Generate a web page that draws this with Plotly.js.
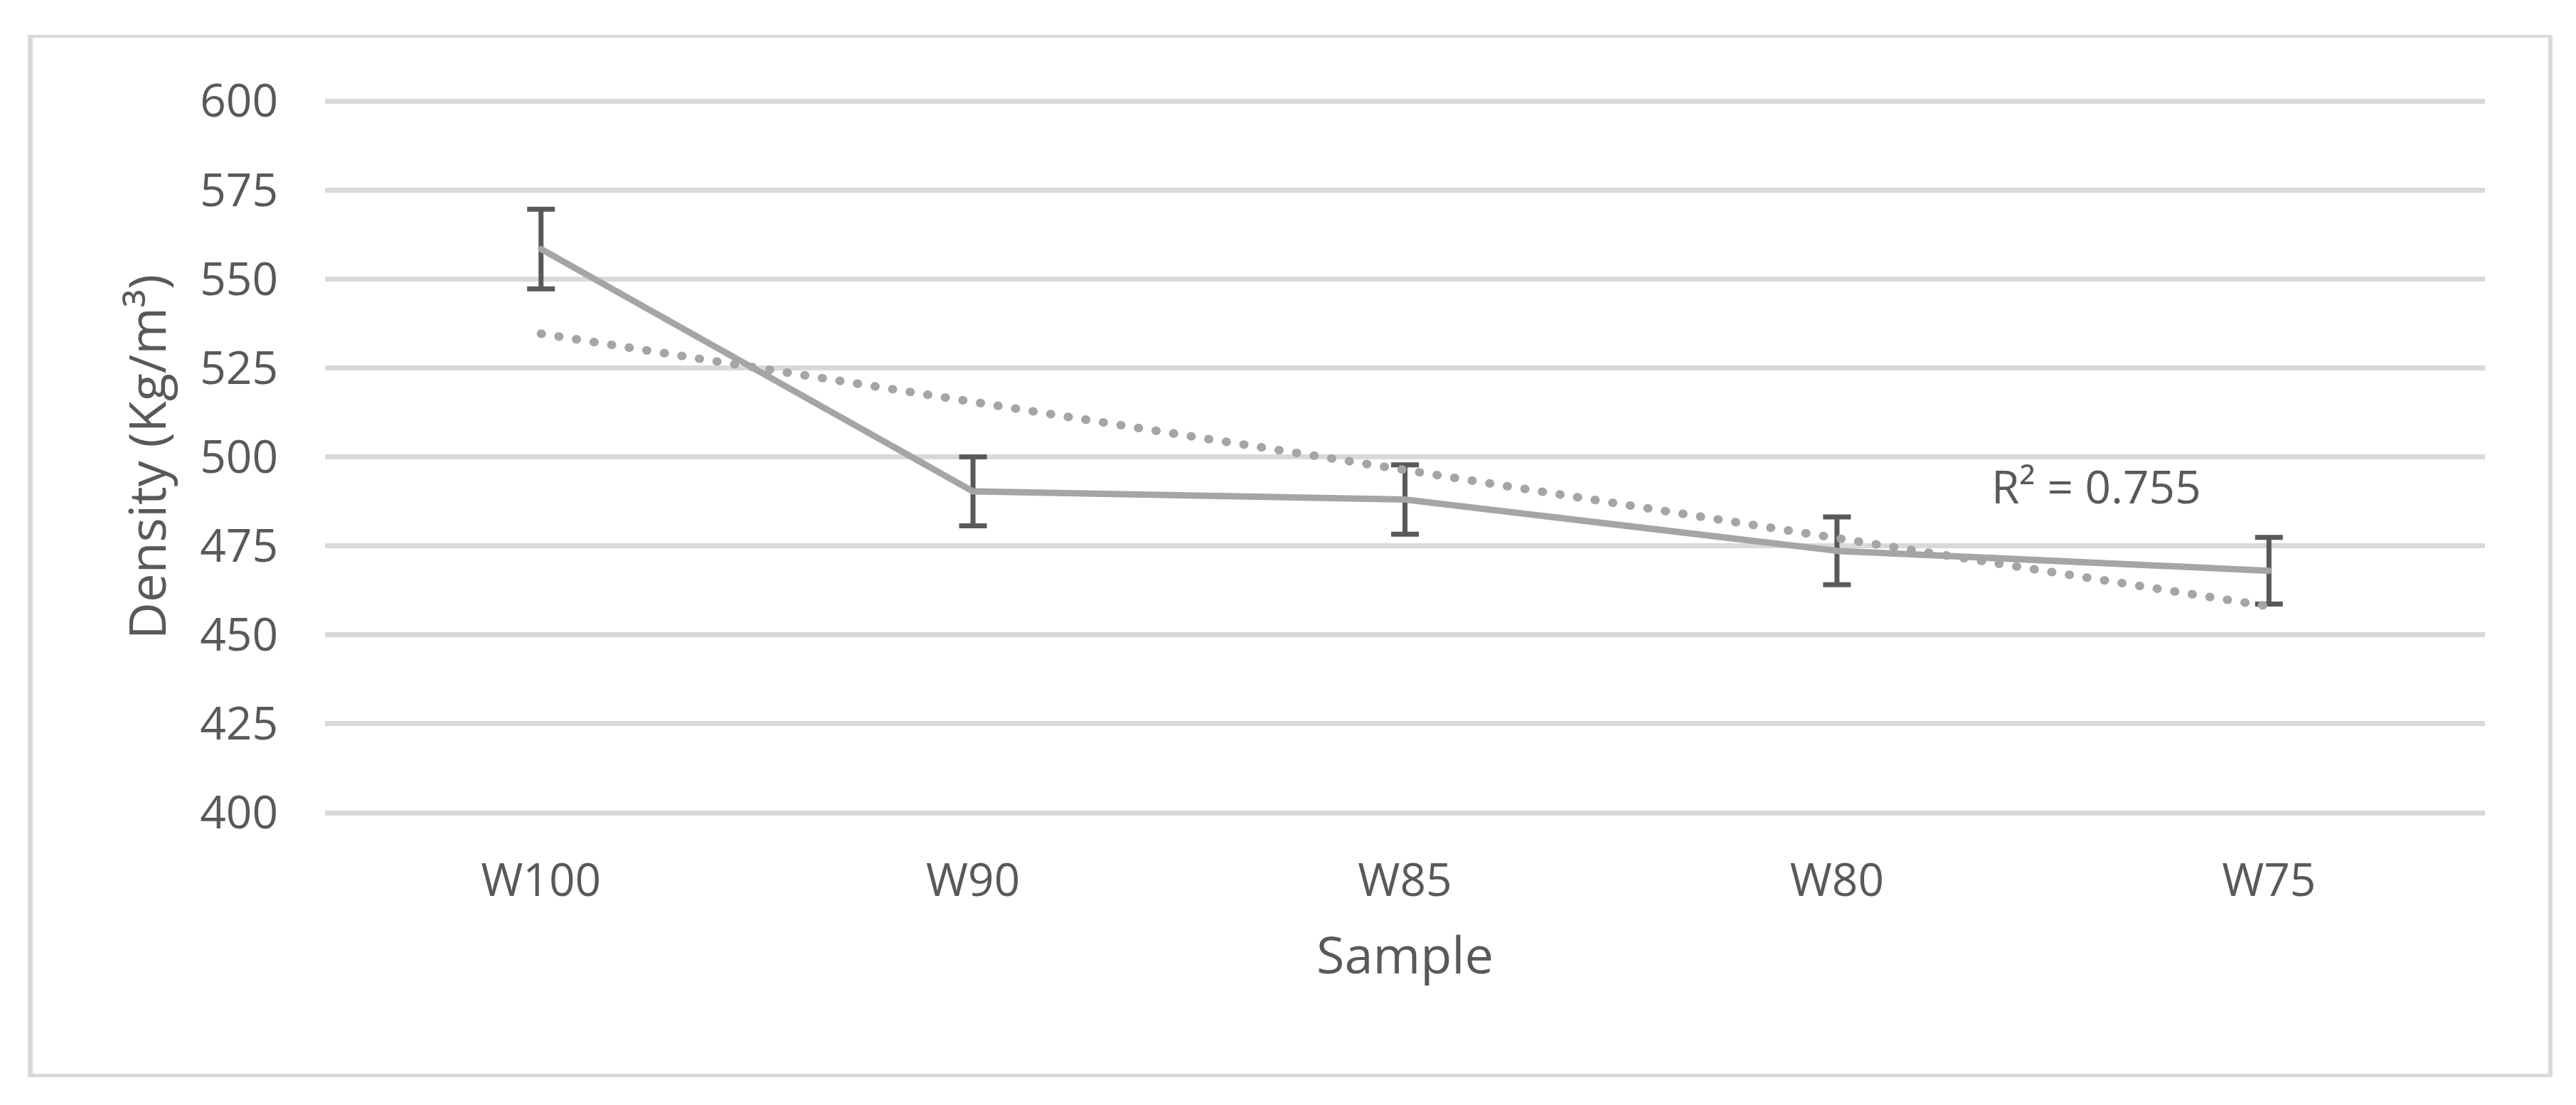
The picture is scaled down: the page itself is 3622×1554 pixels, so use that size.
<!DOCTYPE html>
<html>
<head>
<meta charset="utf-8">
<script src="https://cdn.plot.ly/plotly-3.0.1.min.js"></script>
<style>
  html, body { margin: 0; padding: 0; background: #ffffff; }
  #wrap { position: relative; width: 3622px; height: 1554px; }
  #chart { position: absolute; left: 0; top: 0; width: 3622px; height: 1554px; }
  #frame {
    position: absolute; left: 39px; top: 49px; width: 3550px; height: 1466px;
    box-sizing: border-box; border-style: solid; border-color: #d9d9d9;
    border-width: 4px 6px 5px 7px; pointer-events: none;
  }
  .scatterlayer path.js-line { stroke-linecap: round !important; stroke-linejoin: round !important; }
</style>
</head>
<body>
<div id="wrap">
  <div id="chart"></div>
  <div id="frame"></div>
</div>
<script>
// ---- data ----
const categories = ['W100', 'W90', 'W85', 'W80', 'W75'];
const density = [558.4, 490.3, 488.0, 473.6, 468.0];
const densityError = [11.2, 9.7, 9.75, 9.5, 9.35];
const trendCategories = ['W100', 'W75'];
const trendValues = [534.6, 458.0];
const yTickValues = [400, 425, 450, 475, 500, 525, 550, 575, 600];
const rSquaredLabel = 'R² = 0.755';
const rSquaredPosition = { x: 3.6, y: 491.8 };

const textColor = '#595959';
const fontFamily = '"Open Sans", "Noto Sans", "Liberation Sans", sans-serif';

const traces = [
  {
    type: 'scatter',
    mode: 'lines',
    x: categories,
    y: density,
    line: { color: '#a5a5a5', width: 9 },
    error_y: {
      type: 'data',
      array: densityError,
      visible: true,
      color: '#595959',
      thickness: 7,
      width: 19.5
    },
    showlegend: false,
    hoverinfo: 'skip'
  },
  {
    type: 'scatter',
    mode: 'lines',
    x: trendCategories,
    y: trendValues,
    line: { color: '#a5a5a5', width: 12, dash: '1px,24px' },
    showlegend: false,
    hoverinfo: 'skip'
  }
];

const layout = {
  width: 3622,
  height: 1554,
  paper_bgcolor: '#ffffff',
  plot_bgcolor: '#ffffff',
  margin: { l: 457, r: 128, t: 137, b: 406, pad: 0 },
  font: { family: fontFamily, color: textColor, size: 64 },
  xaxis: {
    type: 'category',
    categoryorder: 'array',
    categoryarray: categories,
    range: [-0.5, categories.length - 0.5],
    showgrid: false,
    showline: false,
    zeroline: false,
    ticks: '',
    ticklabelstandoff: 47,
    tickfont: { family: fontFamily, color: textColor, size: 64 },
    title: { text: 'Sample', font: { family: fontFamily, color: textColor, size: 72 }, standoff: 40 },
    automargin: false
  },
  yaxis: {
    range: [399, 601],
    tickvals: yTickValues,
    ticktext: yTickValues.map(String),
    showgrid: true,
    gridcolor: '#d9d9d9',
    gridwidth: 7,
    showline: false,
    zeroline: false,
    ticks: '',
    ticklabelstandoff: 65,
    tickfont: { family: fontFamily, color: textColor, size: 64 },
    title: { text: 'Density (Kg/m³)', font: { family: fontFamily, color: textColor, size: 72 }, standoff: 24 },
    automargin: false
  },
  annotations: [
    {
      x: rSquaredPosition.x,
      y: rSquaredPosition.y,
      xref: 'x',
      yref: 'y',
      text: rSquaredLabel,
      showarrow: false,
      font: { family: fontFamily, color: textColor, size: 64 },
      xanchor: 'center',
      yanchor: 'middle'
    }
  ]
};

Plotly.newPlot('chart', traces, layout, { staticPlot: true, displayModeBar: false });
</script>
</body>
</html>
